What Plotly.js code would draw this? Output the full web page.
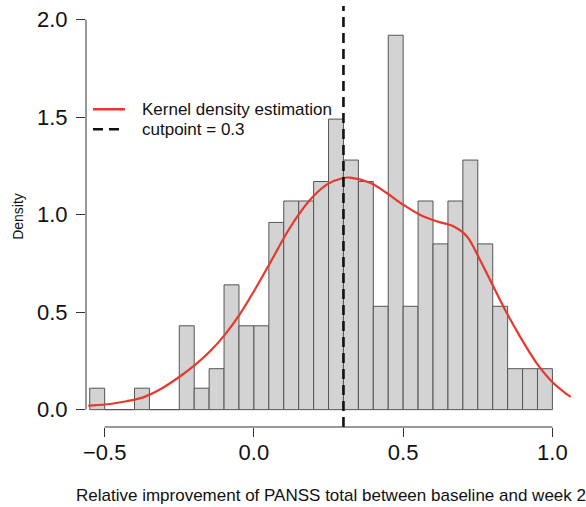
<!DOCTYPE html>
<html>
<head>
<meta charset="utf-8">
<script src="https://cdn.plot.ly/plotly-3.0.1.min.js"></script>
<style>html,body{margin:0;padding:0;background:#fff;}#chart{width:586px;height:507px;}</style>
</head>
<body>
<div id="chart"></div>
<script>
// Histogram bin centres (bin width 0.05) and densities
const binCenters = [-0.525,-0.475,-0.425,-0.375,-0.325,-0.275,-0.225,-0.175,-0.125,-0.075,-0.025,
  0.025,0.075,0.125,0.175,0.225,0.275,0.325,0.375,0.425,0.475,0.525,0.575,0.625,0.675,0.725,0.775,0.825,0.875,0.925,0.975];
const binDensity = [0.11,0,0,0.11,0,0,0.43,0.11,0.21,0.64,0.43,
  0.43,0.96,1.07,1.07,1.17,1.49,1.28,1.17,0.53,1.92,0.53,1.07,0.85,1.07,1.28,0.85,0.53,0.21,0.21,0.21];
const binWidth = 0.05;

// Kernel density estimation curve
const kdeX = [-0.555,-0.538,-0.482,-0.427,-0.371,-0.315,-0.248,-0.198,-0.147,-0.097,-0.047,0.003,0.054,0.11,0.154,0.199,0.244,0.299,0.322,0.389,0.445,0.5,0.556,0.612,0.668,0.713,0.757,0.802,0.847,0.891,0.947,1.003,1.061];
const kdeY = [0.021,0.022,0.029,0.043,0.063,0.103,0.17,0.228,0.299,0.385,0.49,0.615,0.752,0.906,1.009,1.094,1.154,1.188,1.19,1.163,1.111,1.051,1.0,0.966,0.94,0.889,0.769,0.632,0.496,0.376,0.239,0.137,0.065];

const cutpoint = 0.3;
const xTicks = [-0.5, 0.0, 0.5, 1.0];
const yTicks = [0.0, 0.5, 1.0, 1.5, 2.0];
const legendLabels = ['Kernel density estimation', 'cutpoint = ' + cutpoint];

const FONT = 'Liberation Sans, Arial, sans-serif';
const RED = '#e8382d';

const traces = [
  {
    type: 'bar', x: binCenters, y: binDensity, width: binWidth,
    marker: {color: '#d3d3d3', line: {color: '#555555', width: 1}},
    showlegend: false, hoverinfo: 'x+y'
  },
  {
    type: 'scatter', mode: 'lines', x: kdeX, y: kdeY,
    line: {color: RED, width: 2.2, shape: 'spline', smoothing: 1},
    name: legendLabels[0], showlegend: false
  },
  {
    type: 'scatter', mode: 'lines', x: [cutpoint, cutpoint], y: [-0.089, 2.07],
    line: {color: '#111111', width: 2.6, dash: '10px,6px'},
    name: legendLabels[1], showlegend: false
  }
];

// legend drawn in paper coordinates
const legY = [0.7546, 0.7071];
const legX0 = 0.0143, legX1 = 0.0796, legTX = 0.1102;

const layout = {
  width: 586, height: 507,
  margin: {l: 86, r: 10, t: 6, b: 80},
  paper_bgcolor: '#ffffff', plot_bgcolor: '#ffffff',
  font: {family: FONT, color: '#111111'},
  bargap: 0,
  showlegend: false,
  xaxis: {
    range: [-0.5625, 1.079], showgrid: false, zeroline: false, showline: false,
    tickmode: 'array', tickvals: xTicks, tickformat: '.1f',
    ticks: 'outside', ticklen: 9, tickwidth: 1, tickcolor: '#333333',
    tickfont: {family: FONT, size: 22, color: '#111111'},
    ticklabelstandoff: -3,
    title: {text: 'Relative improvement of PANSS total between baseline and week 2',
            font: {family: FONT, size: 17, color: '#111111'}, standoff: 24},
    automargin: false
  },
  yaxis: {
    range: [-0.089, 2.07], showgrid: false, zeroline: false, showline: false,
    tickmode: 'array', tickvals: yTicks, tickformat: '.1f',
    ticks: 'outside', ticklen: 9, tickwidth: 1, tickcolor: '#333333',
    tickfont: {family: FONT, size: 22, color: '#111111'},
    ticklabelstandoff: 4,
    title: {text: 'Density', font: {family: FONT, size: 14, color: '#111111'}, standoff: 10},
    automargin: false
  },
  shapes: [
    {type: 'line', xref: 'x', yref: 'paper', x0: xTicks[0], x1: xTicks[xTicks.length-1], y0: 0, y1: 0,
     line: {color: '#333333', width: 1}},
    {type: 'line', xref: 'paper', yref: 'y', x0: 0, x1: 0, y0: yTicks[0], y1: yTicks[yTicks.length-1],
     line: {color: '#333333', width: 1}},
    {type: 'line', xref: 'paper', yref: 'paper', x0: legX0, x1: legX1, y0: legY[0], y1: legY[0],
     line: {color: RED, width: 2.4}},
    {type: 'line', xref: 'paper', yref: 'paper', x0: legX0, x1: legX1, y0: legY[1], y1: legY[1],
     line: {color: '#111111', width: 2.6, dash: '10px,6px'}}
  ],
  annotations: legendLabels.map((t, i) => ({
    xref: 'paper', yref: 'paper', x: legTX, y: legY[i], xanchor: 'left', yanchor: 'middle',
    text: t, showarrow: false, font: {family: FONT, size: 17, color: '#111111'}
  }))
};

Plotly.newPlot('chart', traces, layout, {displayModeBar: false, staticPlot: true});
</script>
</body>
</html>
